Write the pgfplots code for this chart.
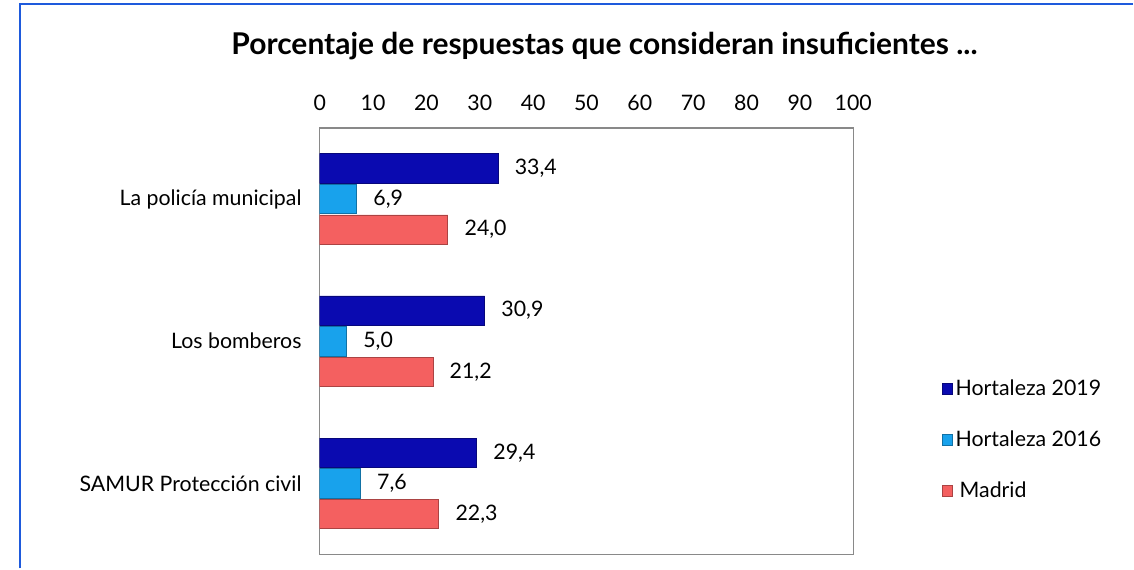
\documentclass[border=0pt]{standalone}
\usepackage{fontspec}
\setmainfont{Lato}
\usepackage{pgfplots}
\pgfplotsset{compat=1.18}

\definecolor{hz19}{RGB}{10,10,176}
\definecolor{hz16}{RGB}{24,162,236}
\definecolor{mad}{RGB}{244,96,96}
\definecolor{frameblue}{RGB}{30,90,220}
\definecolor{boxgray}{RGB}{137,137,137}

\begin{document}
\begin{tikzpicture}
% 1 px of the reference = 0.75pt, axis origin at px (320,555)
\begin{axis}[
  at={(0pt,0pt)}, anchor=south west,
  scale only axis, width=400.5pt, height=320.25pt,
  xbar, bar width=22pt,
  xmin=0, xmax=100, ymin=-0.5, ymax=2.5, y dir=reverse,
  xtick={0,10,...,100}, xticklabel pos=upper,
  ytick={0,1,2},
  yticklabels={La policía municipal, Los bomberos, SAMUR Protección civil},
  major tick length=0pt,
  axis line style={draw=boxgray, line width=1pt},
  tick label style={font=\fontsize{16}{19}\selectfont, inner sep=0pt},
  xticklabel style={yshift=13pt},
  yticklabel style={xshift=-13.5pt},
  /pgf/number format/assume math mode=true,
  nodes near coords,
  nodes near coords style={font=\fontsize{16}{19}\selectfont, anchor=west, inner sep=0pt, xshift=12.5pt,
    /pgf/number format/.cd, use comma, fixed, fixed zerofill, precision=1, assume math mode=true},
  legend style={draw=none, fill=none, at={(1.166,0.416)}, anchor=north west,
    font=\fontsize{16}{19}\selectfont, row sep=21pt, inner sep=0pt},
  legend cell align=left,
  legend image code/.code={\fill[#1] (0pt,-3.9pt) rectangle (7.8pt,3.9pt);},
]
\addplot[bar shift=23pt, fill=hz19, draw=hz19!70!black]
  coordinates {(33.4,0) (30.9,1) (29.4,2)};
\addplot[bar shift=0pt, fill=hz16, draw=hz16!70!black]
  coordinates {(6.9,0) (5.0,1) (7.6,2)};
\addplot[bar shift=-23pt, fill=mad, draw=mad!70!black]
  coordinates {(24.0,0) (21.2,1) (22.3,2)};
\legend{Hortaleza 2019, Hortaleza 2016, \hspace{3pt}Madrid}
\end{axis}
\node[font=\fontsize{22.5}{27}\selectfont\bfseries] at (213.75pt,381.75pt)
  {Porcentaje de respuestas que consideran insuficientes ...};
\draw[frameblue, line width=1.5pt] (-225pt,-10.5pt) -- (-225pt,413.25pt) -- (610.5pt,413.25pt);
\path (-240pt,-10.5pt) rectangle (610.5pt,416.25pt);
\end{tikzpicture}
\end{document}
